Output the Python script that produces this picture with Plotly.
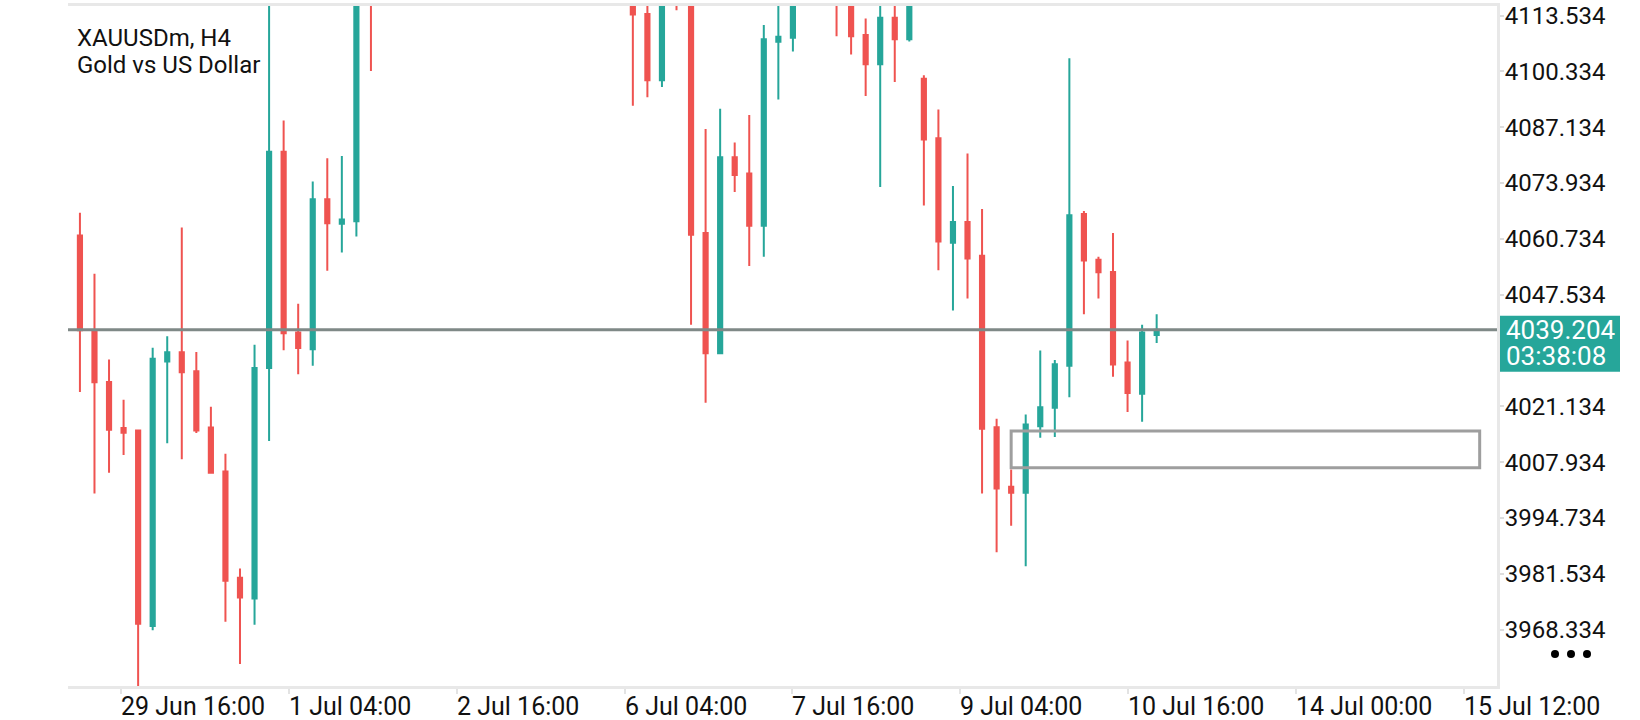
import plotly.graph_objects as go

# symbol header
symbol = "XAUUSDm, H4"
description = "Gold vs US Dollar"

# H4 candles, oldest first (the run above the top edge is estimated)
opens = [4061.5, 4039.1, 4026.9, 4016.0, 4015.4, 3969.2, 4031.7, 4033.9, 4029.4, 4016.1,
         4005.7, 3980.6, 3975.7, 4030.2, 4081.3, 4038.6, 4034.6, 4070.1, 4064.3, 4064.9,
         4121.0, 4118.2, 4121.4, 4127.3, 4132.6, 4129.9, 4143.7, 4140.8, 4147.5, 4155.2,
         4151.3, 4142.6, 4137.1, 4141.9, 4130.4, 4133.5, 4124.9, 4128.0, 4121.5, 4113.9,
         4098.2, 4125.0, 4122.4, 4062.1, 4033.7, 4080.0, 4076.2, 4063.8, 4107.3, 4108.3,
         4123.6, 4127.8, 4120.4, 4121.0, 4108.9, 4102.0, 4113.0, 4107.9, 4098.6, 4084.5,
         4059.8, 4064.7, 4056.7, 4016.2, 4002.1, 4000.7, 4016.4, 4020.8, 4030.7, 4066.6,
         4055.8, 4052.9, 4031.5, 4024.1, 4038.0]
highs = [4066.9, 4052.5, 4032.2, 4022.7, 4015.6, 4035.0, 4037.7, 4063.4, 4034.0, 4021.0,
         4009.9, 3982.8, 4035.7, 4118.0, 4088.7, 4045.4, 4074.3, 4079.8, 4080.3, 4126.0,
         4127.5, 4123.9, 4129.6, 4135.8, 4138.1, 4146.2, 4151.0, 4149.4, 4158.3, 4160.7,
         4154.0, 4147.9, 4144.3, 4145.0, 4136.2, 4137.8, 4131.4, 4130.6, 4126.3, 4118.6,
         4124.5, 4128.4, 4126.0, 4086.7, 4091.5, 4083.5, 4090.0, 4111.3, 4119.4, 4127.2,
         4131.5, 4133.2, 4126.1, 4124.7, 4112.8, 4117.5, 4118.4, 4121.0, 4099.4, 4091.3,
         4073.2, 4080.9, 4067.8, 4018.2, 4006.2, 4019.2, 4034.3, 4032.1, 4103.4, 4067.3,
         4056.5, 4062.1, 4036.7, 4040.4, 4042.9]
lows = [4024.5, 4000.5, 4005.4, 4009.6, 3953.0, 3968.2, 4012.4, 4008.6, 4014.8, 4005.3,
        3970.2, 3960.2, 3969.5, 4012.9, 4034.4, 4028.7, 4030.7, 4053.2, 4057.5, 4061.3,
        4100.4, 4116.9, 4117.1, 4124.0, 4126.4, 4128.5, 4139.2, 4133.6, 4145.1, 4148.9,
        4140.2, 4135.5, 4131.8, 4128.7, 4124.3, 4121.6, 4119.2, 4118.4, 4092.2, 4094.2,
        4096.6, 4114.8, 4040.4, 4022.0, 4033.5, 4071.8, 4054.3, 4056.5, 4093.7, 4105.0,
        4118.9, 4117.6, 4108.6, 4104.3, 4094.5, 4073.0, 4097.8, 4107.4, 4068.6, 4053.3,
        4043.8, 4046.6, 4000.5, 3986.6, 3992.9, 3983.3, 4013.7, 4013.9, 4023.3, 4042.9,
        4046.6, 4028.1, 4019.8, 4017.5, 4036.1]
closes = [4039.1, 4026.8, 4015.6, 4014.9, 3969.7, 4032.4, 4033.9, 4029.2, 4015.4, 4005.4,
          3979.9, 3975.9, 4030.2, 4081.3, 4038.4, 4034.9, 4070.1, 4064.4, 4065.3, 4121.0,
          4118.2, 4121.4, 4127.3, 4132.6, 4129.9, 4143.7, 4140.8, 4147.5, 4155.2, 4151.3,
          4142.6, 4137.1, 4141.9, 4130.4, 4133.5, 4124.9, 4128.0, 4121.5, 4113.75, 4098.2,
          4121.3, 4119.6, 4061.7, 4033.7, 4080.0, 4075.8, 4063.8, 4107.9, 4108.5, 4123.6,
          4127.8, 4120.4, 4117.0, 4108.6, 4102.0, 4113.0, 4107.9, 4118.3, 4084.2, 4060.1,
          4064.7, 4056.1, 4015.8, 4001.7, 4000.7, 4016.8, 4020.9, 4031.1, 4066.3, 4055.6,
          4052.8, 4031.0, 4024.3, 4038.6, 4039.204]
bars = list(range(len(opens)))

# axes
price_ticks = [3968.334, 3981.534, 3994.734, 4007.934, 4021.134, 4034.334,
               4047.534, 4060.734, 4073.934, 4087.134, 4100.334, 4113.534]
time_labels = ["29 Jun 16:00", "1 Jul 04:00", "2 Jul 16:00", "6 Jul 04:00", "7 Jul 16:00",
               "9 Jul 04:00", "10 Jul 16:00", "14 Jul 00:00", "15 Jul 12:00"]
time_ticks = [2.85, 14.38, 25.91, 37.44, 48.97, 60.5, 72.03, 83.56, 95.09]
x_range = [-0.82, 97.39]
y_range = [3955.0, 4115.78]

# current price and drawn zone
last_price = 4039.204
countdown = "03:38:08"
zone_start, zone_end = 64, 96.2
zone_low, zone_high = 4006.6, 4015.3

UP = "#26a69a"
DOWN = "#ef5350"
FONT = "Roboto"

fig = go.Figure(go.Candlestick(
    x=bars, open=opens, high=highs, low=lows, close=closes,
    increasing=dict(line=dict(color=UP, width=2), fillcolor=UP),
    decreasing=dict(line=dict(color=DOWN, width=2), fillcolor=DOWN),
    whiskerwidth=0, hoverinfo="skip",
))

shown_ticks = [t for t in price_ticks if abs(t - last_price) > 6]

fig.update_layout(
    width=1640, height=720,
    margin=dict(l=68, r=143, t=3, b=34),
    paper_bgcolor="white", plot_bgcolor="white",
    showlegend=False,
    boxgap=0.59,
    font=dict(family=FONT, size=24, color="#111111"),
    xaxis=dict(range=x_range, rangeslider=dict(visible=False),
               tickvals=time_ticks, showticklabels=False,
               ticks="outside", ticklen=5, tickwidth=2, tickcolor="#e3e3e3",
               showline=True, linecolor="#e8e8e8", linewidth=3, mirror=True,
               showgrid=False, zeroline=False, fixedrange=True),
    yaxis=dict(side="right", range=y_range,
               tickvals=shown_ticks, ticktext=[f"{t:.3f}" for t in shown_ticks],
               ticks="outside", ticklen=4, tickwidth=2, tickcolor="#dddddd",
               ticklabelstandoff=-4,
               showline=True, linecolor="#e8e8e8", linewidth=3,
               showgrid=False, zeroline=False, fixedrange=True,
               tickfont=dict(family=FONT, size=24, color="#111111")),
)

# zone rectangle and current price line
fig.add_shape(type="rect", xref="x", yref="y", x0=zone_start, x1=zone_end,
              y0=zone_low, y1=zone_high, line=dict(color="#9e9e9e", width=3),
              fillcolor="rgba(0,0,0,0)")
fig.add_shape(type="line", xref="paper", yref="y", x0=0, x1=1,
              y0=last_price, y1=last_price, line=dict(color="#7f8987", width=3))

# price tag on the right axis
fig.add_shape(type="rect", xref="paper", yref="y", xsizemode="pixel", ysizemode="pixel",
              xanchor=1, yanchor=last_price, x0=3, x1=123, y0=-42, y1=14,
              line=dict(width=0), fillcolor=UP, layer="above")
for text, shift in [(f"{last_price:.3f}", 14), (countdown, -12.5)]:
    fig.add_annotation(xref="paper", yref="y", x=1, y=last_price, xanchor="left",
                       yanchor="top", xshift=8, yshift=shift, height=26, borderpad=0,
                       valign="middle", text=text, showarrow=False,
                       font=dict(family=FONT, size=26, color="white"))

# header
fig.add_annotation(xref="paper", yref="paper", x=0, y=1, xanchor="left", yanchor="top",
                   xshift=7, yshift=-16, text=symbol, showarrow=False,
                   font=dict(family=FONT, size=24, color="#111111"))
fig.add_annotation(xref="paper", yref="paper", x=0, y=1, xanchor="left", yanchor="top",
                   xshift=7, yshift=-43, text=description, showarrow=False,
                   font=dict(family=FONT, size=24, color="#111111"))

# time labels start at their tick marks
for pos, label in zip(time_ticks, time_labels):
    fig.add_annotation(xref="x", yref="paper", x=pos, y=0, xanchor="left", yanchor="top",
                       xshift=-2, yshift=-4, text=label, showarrow=False,
                       font=dict(family=FONT, size=25, color="#111111"))

# menu dots under the price scale
for dx in (58, 74, 90):
    fig.add_shape(type="circle", xref="paper", yref="paper", xsizemode="pixel",
                  ysizemode="pixel", xanchor=1, yanchor=0, x0=dx - 4, x1=dx + 4,
                  y0=28, y1=36, line=dict(width=0), fillcolor="#000000")

# the page's default body margin would push the figure off the window
fig.write_html("out.html", config={"displayModeBar": False},
               post_script="document.body.style.margin='0';")
